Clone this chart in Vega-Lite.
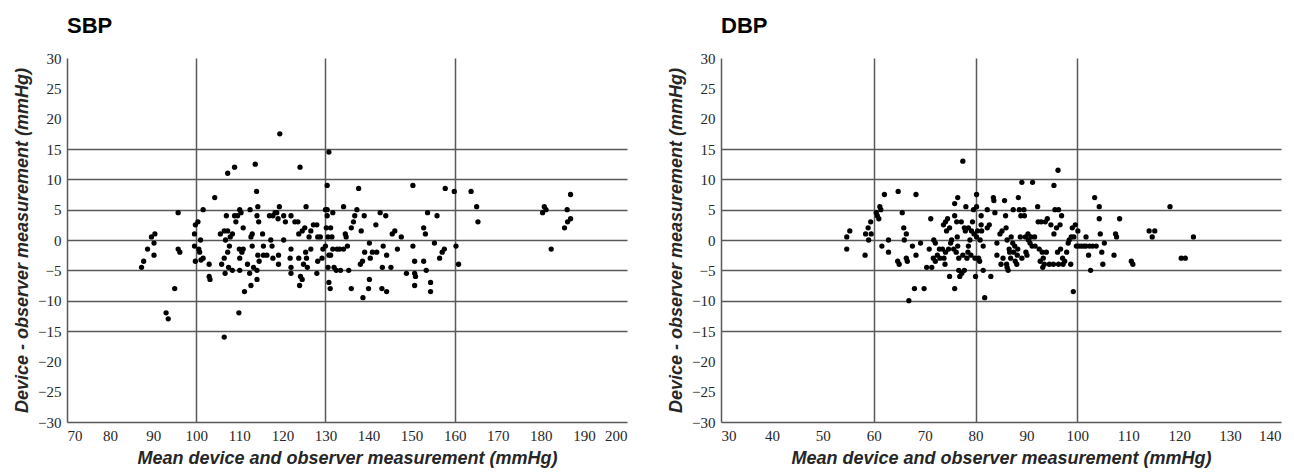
{
  "$schema": "https://vega.github.io/schema/vega-lite/v6.json",
  "background": "white",
  "padding": {"left": 13, "top": 15, "right": 10, "bottom": 4},
  "spacing": 40,
  "config": {
    "view": {"stroke": null},
    "axis": {
      "domainColor": "#595959",
      "domainWidth": 1.5,
      "ticks": false,
      "labelFont": "Liberation Sans Narrow",
      "labelFontSize": 15,
      "labelColor": "#262626",
      "labelPadding": 6,
      "titleFont": "Liberation Sans",
      "titleFontWeight": "bold",
      "titleFontStyle": "italic",
      "titleFontSize": 18,
      "titleColor": "#262626",
      "grid": true,
      "gridColor": "#595959",
      "gridWidth": 1.5
    },
    "title": {"font": "Liberation Sans", "fontSize": 22, "fontWeight": "bold", "anchor": "start", "frame": "group", "color": "#000000", "offset": 13}
  },
  "datasets": {
    "sbp": [
      {"m":87.3,"d":-4.5},{"m":87.8,"d":-3.5},{"m":88.7,"d":-1.5},{"m":89.6,"d":0.5},{"m":90.4,"d":1},{"m":90.2,"d":-0.5},{"m":90.2,"d":-2.5},{"m":95.8,"d":4.5},{"m":95.8,"d":-1.5},{"m":96.2,"d":-2},{"m":95,"d":-8},{"m":93,"d":-12},{"m":93.5,"d":-13},{"m":99.6,"d":1},{"m":99.8,"d":2.5},{"m":100.4,"d":3},{"m":99.6,"d":-1},{"m":99.8,"d":-3.5},{"m":100.6,"d":-1.5},{"m":101,"d":0},{"m":101.6,"d":5},{"m":100.8,"d":-2},{"m":101.1,"d":-3.3},{"m":101.6,"d":-3},{"m":103,"d":-4},{"m":103,"d":-6},{"m":103.2,"d":-6.5},{"m":104.3,"d":7},{"m":105.6,"d":1},{"m":105.9,"d":-4},{"m":106.5,"d":-16},{"m":107.3,"d":11},{"m":108.9,"d":12},{"m":107,"d":4},{"m":106.5,"d":1.5},{"m":107.3,"d":1.5},{"m":106.8,"d":0},{"m":107.3,"d":-2},{"m":106.5,"d":-3},{"m":106.7,"d":-5.5},{"m":107.5,"d":-4.5},{"m":107.9,"d":0.5},{"m":108.4,"d":1},{"m":107.7,"d":-1},{"m":108.4,"d":-5},{"m":108.9,"d":4},{"m":109.6,"d":4},{"m":109.2,"d":3},{"m":110.1,"d":5},{"m":110.4,"d":4.5},{"m":110.9,"d":2},{"m":110,"d":-1.5},{"m":110.1,"d":-3},{"m":110.6,"d":-2},{"m":110.9,"d":-1.5},{"m":110.1,"d":-5},{"m":109.9,"d":-12},{"m":111.2,"d":-8.5},{"m":111.9,"d":-4},{"m":112.4,"d":-5.5},{"m":112.5,"d":5},{"m":112.7,"d":0.5},{"m":113,"d":1},{"m":112.7,"d":-7.5},{"m":113,"d":-1},{"m":113.3,"d":-4.5},{"m":113.7,"d":12.5},{"m":114,"d":8},{"m":114.1,"d":4},{"m":114.3,"d":5.5},{"m":114.5,"d":3},{"m":114.3,"d":-2.5},{"m":114.6,"d":-3.5},{"m":114.1,"d":-6.5},{"m":114.1,"d":-5},{"m":115.4,"d":1},{"m":115.6,"d":-1},{"m":115.6,"d":-2.5},{"m":116.4,"d":-2.5},{"m":117,"d":4},{"m":117.3,"d":0},{"m":117.6,"d":-1},{"m":117.8,"d":-3},{"m":117.8,"d":4},{"m":118.3,"d":4.5},{"m":118.7,"d":4.5},{"m":119,"d":3.5},{"m":119.4,"d":17.5},{"m":119.3,"d":5.5},{"m":119.1,"d":-2.5},{"m":119.1,"d":-4},{"m":120.3,"d":4},{"m":120.3,"d":0},{"m":120.7,"d":3},{"m":121.8,"d":-3},{"m":122,"d":-1.5},{"m":122,"d":-4.5},{"m":122,"d":-5.5},{"m":122,"d":4},{"m":122.9,"d":3},{"m":123.6,"d":3},{"m":124.1,"d":12},{"m":123.8,"d":1},{"m":123.8,"d":-3},{"m":124,"d":-7.5},{"m":124.2,"d":-6},{"m":124.6,"d":-6.5},{"m":124.6,"d":1.5},{"m":124.9,"d":-4},{"m":125.2,"d":2},{"m":125.5,"d":5.5},{"m":125.4,"d":-2},{"m":125.6,"d":-3},{"m":125.8,"d":-4.5},{"m":126.2,"d":0.5},{"m":126.6,"d":1.5},{"m":126.6,"d":-1.5},{"m":127.2,"d":2.5},{"m":128,"d":2.5},{"m":128,"d":-5.5},{"m":128.2,"d":0.5},{"m":128.2,"d":-3.5},{"m":128.8,"d":0.5},{"m":129.2,"d":-3},{"m":129.4,"d":-1.5},{"m":130,"d":-1},{"m":130,"d":5},{"m":130.4,"d":4},{"m":130.4,"d":9},{"m":130.8,"d":14.5},{"m":130.4,"d":5},{"m":130.2,"d":2},{"m":130.6,"d":0.5},{"m":130.8,"d":-2.5},{"m":130.6,"d":-4.5},{"m":130.8,"d":-7},{"m":131.1,"d":-8},{"m":131.2,"d":2},{"m":131.2,"d":-2.5},{"m":131.5,"d":0.5},{"m":131.7,"d":4.5},{"m":131.7,"d":-1.5},{"m":132,"d":-4.5},{"m":132.5,"d":-5},{"m":132.7,"d":-1.5},{"m":133.3,"d":-1.5},{"m":133.5,"d":-5},{"m":134.2,"d":5.5},{"m":134.2,"d":-1.5},{"m":134.6,"d":1},{"m":134.8,"d":0.5},{"m":135.1,"d":-1},{"m":135.4,"d":-5},{"m":136,"d":2},{"m":136,"d":-8},{"m":136.5,"d":3},{"m":136.8,"d":4},{"m":137.3,"d":5},{"m":137.7,"d":8.5},{"m":138.1,"d":-4},{"m":138.3,"d":1.5},{"m":138.6,"d":-3.5},{"m":138.7,"d":-9.5},{"m":139,"d":4},{"m":139.1,"d":-2},{"m":140,"d":-8},{"m":140.2,"d":-6.5},{"m":140.2,"d":-0.5},{"m":140.4,"d":-3},{"m":140.9,"d":-2},{"m":141.7,"d":2.5},{"m":141.9,"d":-2},{"m":142.7,"d":4.5},{"m":143.1,"d":-8},{"m":143.2,"d":-4.5},{"m":143.4,"d":-1},{"m":144,"d":4},{"m":144.2,"d":-2.5},{"m":144.2,"d":-8.5},{"m":145.2,"d":-4.5},{"m":145.5,"d":1},{"m":146.1,"d":1.5},{"m":146.7,"d":-1.5},{"m":147.6,"d":0.5},{"m":148.8,"d":-5.5},{"m":150.3,"d":9},{"m":150.3,"d":-1},{"m":150.7,"d":-3.5},{"m":150.7,"d":-5.5},{"m":150.9,"d":-6},{"m":150.7,"d":-7.5},{"m":152.8,"d":2},{"m":152.8,"d":-3.5},{"m":153.2,"d":1},{"m":153.4,"d":-5},{"m":153.7,"d":4.5},{"m":154.4,"d":-7},{"m":154.4,"d":-8.5},{"m":155.3,"d":-0.5},{"m":155.9,"d":4},{"m":156.5,"d":-3},{"m":157.1,"d":-2},{"m":157.6,"d":-1.5},{"m":157.8,"d":8.5},{"m":159.9,"d":8},{"m":160.3,"d":-1},{"m":160.9,"d":-4},{"m":163.8,"d":8},{"m":165.1,"d":5.5},{"m":165.4,"d":3},{"m":180.4,"d":4.5},{"m":180.8,"d":5.5},{"m":181.2,"d":5},{"m":182.4,"d":-1.5},{"m":185.5,"d":2},{"m":186.1,"d":5},{"m":186.2,"d":3},{"m":186.9,"d":3.5},{"m":186.9,"d":7.5}
    ],
    "dbp": [
      {"m":54.7,"d":0.5},{"m":54.7,"d":-1.5},{"m":55.3,"d":1.5},{"m":58.3,"d":-2.5},{"m":58.4,"d":1},{"m":58.9,"d":2},{"m":59,"d":0},{"m":59.4,"d":3},{"m":59.5,"d":1},{"m":60.5,"d":4.5},{"m":60.7,"d":4},{"m":61,"d":3.5},{"m":61.2,"d":5.5},{"m":61.4,"d":5},{"m":61.6,"d":-1},{"m":62.1,"d":7.5},{"m":62.9,"d":0},{"m":62.9,"d":-2},{"m":64.8,"d":8},{"m":64.7,"d":-3.5},{"m":65,"d":-4},{"m":65.6,"d":4.5},{"m":65.9,"d":2},{"m":66,"d":0},{"m":66.4,"d":1},{"m":66.4,"d":-3},{"m":66.6,"d":-3.5},{"m":66.9,"d":-10},{"m":67.6,"d":-1},{"m":68,"d":-8},{"m":68.3,"d":7.5},{"m":68.3,"d":-2.5},{"m":69.2,"d":-0.5},{"m":69.9,"d":-8},{"m":70.4,"d":-4.5},{"m":70.9,"d":-1.5},{"m":71.2,"d":3.5},{"m":71.4,"d":-4.5},{"m":71.7,"d":-3},{"m":71.8,"d":0},{"m":72.1,"d":-0.5},{"m":72.1,"d":-3.5},{"m":72.5,"d":-2.5},{"m":72.9,"d":-1.5},{"m":73,"d":-3},{"m":73.5,"d":-1.5},{"m":73.7,"d":2.5},{"m":73.8,"d":-3},{"m":74,"d":-4},{"m":74.1,"d":3},{"m":74.1,"d":-2},{"m":74.3,"d":1.5},{"m":74.5,"d":3.5},{"m":74.7,"d":-1.5},{"m":74.9,"d":2},{"m":74.9,"d":-6},{"m":75.1,"d":-0.5},{"m":75.3,"d":0},{"m":75.7,"d":-1.5},{"m":75.9,"d":6},{"m":75.9,"d":4},{"m":75.9,"d":-8},{"m":76.5,"d":7},{"m":76.2,"d":-2},{"m":76.3,"d":3},{"m":76.4,"d":0.5},{"m":76.5,"d":-1},{"m":76.7,"d":-3},{"m":76.7,"d":-5},{"m":76.9,"d":-6},{"m":77.2,"d":3},{"m":77.3,"d":-5.5},{"m":77.5,"d":13},{"m":77.5,"d":-2.5},{"m":77.8,"d":2},{"m":77.8,"d":-5},{"m":78,"d":1.5},{"m":78.1,"d":5.5},{"m":78.3,"d":-3},{"m":78.5,"d":-2},{"m":78.6,"d":2},{"m":78.6,"d":-1},{"m":78.9,"d":0},{"m":79.1,"d":-2.5},{"m":79.2,"d":1.5},{"m":79.4,"d":3},{"m":79.6,"d":5},{"m":79.7,"d":1},{"m":79.9,"d":-3},{"m":80,"d":-6},{"m":80.2,"d":7.5},{"m":80.2,"d":5.5},{"m":80.2,"d":0.5},{"m":80.4,"d":1.5},{"m":80.6,"d":-3},{"m":80.8,"d":-3.5},{"m":80.9,"d":0},{"m":81.1,"d":2.5},{"m":81.1,"d":4},{"m":81.2,"d":1.5},{"m":81.5,"d":-1},{"m":81.5,"d":-5},{"m":81.8,"d":-9.5},{"m":82.3,"d":5},{"m":82.3,"d":2},{"m":82.7,"d":2.5},{"m":83,"d":-6},{"m":83.5,"d":7},{"m":83.6,"d":6.5},{"m":83.8,"d":4.5},{"m":84.2,"d":-0.5},{"m":84.2,"d":-2.5},{"m":84.8,"d":1},{"m":85,"d":-4},{"m":85.2,"d":1.5},{"m":85.4,"d":-3},{"m":85.7,"d":6.5},{"m":85.9,"d":4},{"m":86,"d":2},{"m":86.1,"d":-4},{"m":86.2,"d":-4.5},{"m":86.4,"d":-5},{"m":86.2,"d":0},{"m":86.6,"d":-1.5},{"m":86.7,"d":-2},{"m":86.9,"d":-3},{"m":87,"d":0.5},{"m":87.3,"d":-0.5},{"m":87.4,"d":5},{"m":87.5,"d":-2},{"m":87.7,"d":-1},{"m":87.8,"d":-3.5},{"m":88.1,"d":-4},{"m":88.2,"d":-2.5},{"m":88.3,"d":-1.5},{"m":88.4,"d":7},{"m":88.6,"d":5},{"m":88.8,"d":0.5},{"m":88.9,"d":4},{"m":89.1,"d":9.5},{"m":89.1,"d":-3},{"m":89.5,"d":5},{"m":89.6,"d":4},{"m":89.8,"d":0.5},{"m":89.9,"d":-2},{"m":90.1,"d":-2.5},{"m":90.3,"d":1},{"m":90.4,"d":0},{"m":90.7,"d":-0.5},{"m":90.9,"d":0.5},{"m":91.1,"d":-1},{"m":91.2,"d":9.5},{"m":91.6,"d":0.5},{"m":91.7,"d":-1},{"m":92.2,"d":5.5},{"m":92.3,"d":3},{"m":92.5,"d":-1.5},{"m":92.7,"d":-3.5},{"m":92.9,"d":3},{"m":93.1,"d":-2},{"m":93.2,"d":-4.5},{"m":93.3,"d":-3},{"m":93.5,"d":-4},{"m":93.7,"d":3},{"m":93.9,"d":-2},{"m":94.1,"d":3.5},{"m":94.5,"d":-4},{"m":94.8,"d":2.5},{"m":95.3,"d":-4},{"m":95.4,"d":9},{"m":95.4,"d":1},{"m":95.6,"d":5},{"m":95.9,"d":2},{"m":96.1,"d":-2},{"m":96.2,"d":11.5},{"m":96.3,"d":5},{"m":96.3,"d":-4},{"m":96.6,"d":2.5},{"m":96.7,"d":-1.5},{"m":96.9,"d":4},{"m":97.1,"d":-3},{"m":97.2,"d":-4},{"m":97.5,"d":-3.5},{"m":97.9,"d":-2},{"m":98.2,"d":-0.5},{"m":98.4,"d":0},{"m":98.7,"d":-4},{"m":98.8,"d":0.5},{"m":99,"d":2},{"m":99.2,"d":-8.5},{"m":99.3,"d":0.5},{"m":99.6,"d":2.5},{"m":99.8,"d":-1},{"m":100.1,"d":1.5},{"m":100.3,"d":-1},{"m":100.8,"d":-1},{"m":101.3,"d":-1},{"m":101.7,"d":0.5},{"m":101.7,"d":-1},{"m":102.2,"d":-2.5},{"m":102.4,"d":-1},{"m":102.6,"d":-5},{"m":103,"d":-1},{"m":103.4,"d":7},{"m":103.7,"d":-1},{"m":104.3,"d":5.5},{"m":104.3,"d":3.5},{"m":104.5,"d":1},{"m":104.8,"d":-2},{"m":105,"d":-4},{"m":105.3,"d":-0.5},{"m":107.2,"d":-2.5},{"m":107.5,"d":1},{"m":107.7,"d":0.5},{"m":108.3,"d":3.5},{"m":110.6,"d":-3.5},{"m":110.9,"d":-4},{"m":114.1,"d":1.5},{"m":114.7,"d":0.5},{"m":115.2,"d":1.5},{"m":118.2,"d":5.5},{"m":120.4,"d":-3},{"m":121.2,"d":-3},{"m":122.8,"d":0.5}
    ]
  },
  "hconcat": [
    {
      "title": "SBP",
      "width": 560,
      "height": 364,
      "data": {"name": "sbp"},
      "mark": {"type": "circle", "size": 28, "color": "#000000", "opacity": 1},
      "encoding": {
        "x": {
          "field": "m", "type": "quantitative",
          "scale": {"domain": [70, 200], "nice": false, "zero": false},
          "axis": {
            "title": "Mean device and observer measurement (mmHg)",
            "values": [70, 80, 90, 100, 110, 120, 130, 140, 150, 160, 170, 180, 190, 200],
            "labelAngle": 0,
            "titlePadding": 6,
            "gridOpacity": {"condition": {"test": "datum.value == 100 || datum.value == 130 || datum.value == 160", "value": 1}, "value": 0}
          }
        },
        "y": {
          "field": "d", "type": "quantitative",
          "scale": {"domain": [-30, 30], "nice": false, "zero": false},
          "axis": {
            "title": "Device - observer measurement (mmHg)",
            "values": [-30, -25, -20, -15, -10, -5, 0, 5, 10, 15, 20, 25, 30],
            "titlePadding": 6,
            "gridOpacity": {"condition": {"test": "abs(datum.value) <= 15", "value": 1}, "value": 0}
          }
        }
      }
    },
    {
      "title": "DBP",
      "width": 560,
      "height": 364,
      "data": {"name": "dbp"},
      "mark": {"type": "circle", "size": 28, "color": "#000000", "opacity": 1},
      "encoding": {
        "x": {
          "field": "m", "type": "quantitative",
          "scale": {"domain": [30, 140], "nice": false, "zero": false},
          "axis": {
            "title": "Mean device and observer measurement (mmHg)",
            "values": [30, 40, 50, 60, 70, 80, 90, 100, 110, 120, 130, 140],
            "labelAngle": 0,
            "titlePadding": 6,
            "gridOpacity": {"condition": {"test": "datum.value == 60 || datum.value == 80 || datum.value == 100", "value": 1}, "value": 0}
          }
        },
        "y": {
          "field": "d", "type": "quantitative",
          "scale": {"domain": [-30, 30], "nice": false, "zero": false},
          "axis": {
            "title": "Device - observer measurement (mmHg)",
            "values": [-30, -25, -20, -15, -10, -5, 0, 5, 10, 15, 20, 25, 30],
            "titlePadding": 6,
            "gridOpacity": {"condition": {"test": "abs(datum.value) <= 15", "value": 1}, "value": 0}
          }
        }
      }
    }
  ]
}
